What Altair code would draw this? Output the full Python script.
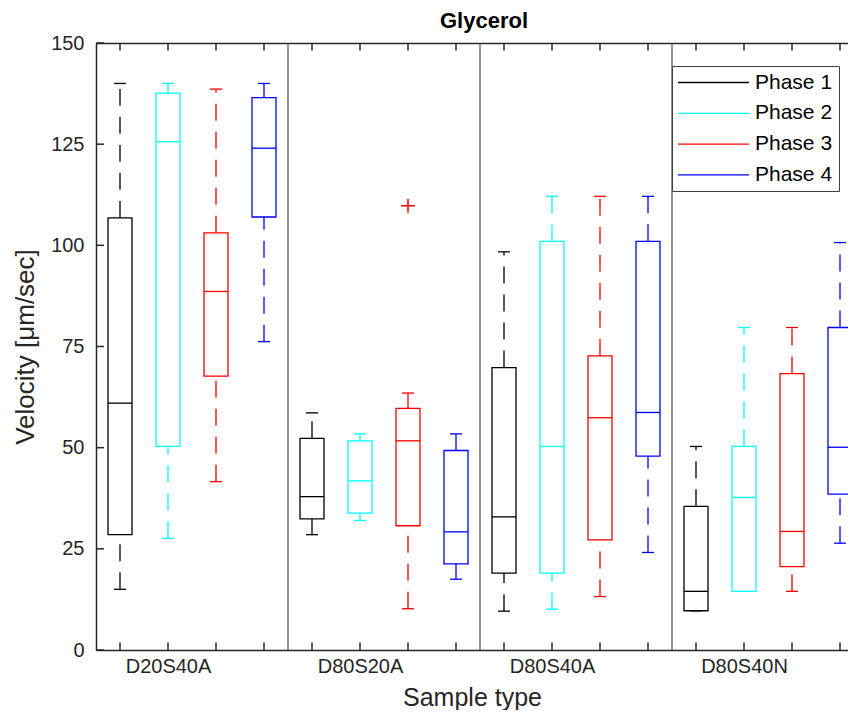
import altair as alt
import pandas as pd

groups = ["D20S40A", "D80S20A", "D80S40A", "D80S40N"]
phases = ["Phase 1", "Phase 2", "Phase 3", "Phase 4"]
colors = ["#000000", "#00ffff", "#ff0000", "#0000ff"]

# one value per box, group-major then phase order
lower  = [15.0, 27.6, 41.6, 76.2,   28.5, 32.0, 10.2, 17.5,   9.6, 10.1, 13.2, 24.1,   9.7, 14.5, 14.5, 26.4]
q1     = [28.5, 50.3, 67.7, 107.0,  32.4, 33.8, 30.7, 21.3,   19.0, 19.0, 27.2, 47.9,  9.7, 14.5, 20.6, 38.5]
median = [61.0, 125.6, 88.6, 124.0, 37.9, 41.8, 51.7, 29.2,   32.9, 50.3, 57.4, 58.7,  14.5, 37.7, 29.3, 50.1]
q3     = [106.8, 137.6, 103.1, 136.5, 52.3, 51.7, 59.7, 49.3, 69.8, 101.0, 72.7, 101.0, 35.5, 50.3, 68.3, 79.7]
upper  = [140.0, 140.0, 138.6, 140.0, 58.6, 53.4, 63.5, 53.4, 98.4, 112.1, 112.1, 112.1, 50.3, 79.7, 79.7, 100.7]

outlier_group = ["D80S20A"]
outlier_phase = ["Phase 3"]
outlier_value = [109.8]

y_ticks = [0, 25, 50, 75, 100, 125, 150]

FONT = "Liberation Sans"
AX = "#262626"
W, H = 752, 607
UNIT = 48.0  # pixels per box slot

rows = []
i = 0
for gi, g in enumerate(groups):
    for pi, p in enumerate(phases):
        pos = gi * 4 + pi + 1
        rows.append(dict(group=g, phase=p, pos=pos,
                         left=pos - 0.25, right=pos + 0.25,
                         capl=pos - 0.125, capr=pos + 0.125,
                         lower=lower[i], q1=q1[i], median=median[i],
                         q3=q3[i], upper=upper[i]))
        i += 1
df = pd.DataFrame(rows)

out_rows = []
for g, p, v in zip(outlier_group, outlier_phase, outlier_value):
    out_rows.append(dict(group=g, phase=p, value=v,
                         pos=groups.index(g) * 4 + phases.index(p) + 1))
dfo = pd.DataFrame(out_rows)

xticks = pd.DataFrame({"pos": list(range(1, 4 * len(groups) + 1))})
yticks = pd.DataFrame({"v": y_ticks})
seps = pd.DataFrame({"s": [gi * 4 + 0.5 for gi in range(1, len(groups))]})

xscale = alt.Scale(domain=[0.5, 0.5 + W / UNIT], nice=False, zero=False)
yscale = alt.Scale(domain=[0, 150], nice=False, zero=False)

label_positions = [gi * 4 + 2 for gi in range(len(groups))]
label_expr = " : ".join(
    [f"datum.value == {p} ? '{g}'" for p, g in zip(label_positions, groups)]
) + " : ''"

legend = alt.Legend(
    orient="none", legendX=576, legendY=23, title=None,
    symbolType="M-3.737,0H3.737", symbolSize=361, symbolStrokeWidth=1.3,
    symbolOffset=25, labelOffset=31, labelFont=FONT, labelFontSize=21,
    labelColor="#000000", padding=6, rowPadding=8.8,
    strokeColor="#404040", fillColor="white", labelLimit=300,
)
color = alt.Color("phase:N", scale=alt.Scale(domain=phases, range=colors), legend=legend)

x_bottom_axis = alt.Axis(
    orient="bottom",
    values=label_positions, labelExpr=label_expr, ticks=False, grid=False,
    domain=True, domainColor=AX, domainWidth=1.5, labelFont=FONT,
    labelFontSize=20, labelColor=AX, labelPadding=6, labelFlush=False,
    title="Sample type", titleFont=FONT, titleFontSize=25,
    titleFontWeight="normal", titleColor=AX, titlePadding=9,
)
y_axis = alt.Axis(
    orient="left",
    values=y_ticks, ticks=False, grid=False, domain=True, domainColor=AX,
    domainWidth=1.5, labelFont=FONT, labelFontSize=20, labelColor=AX,
    labelPadding=12, labelFlush=False, title="Velocity [μm/sec]",
    titleFont=FONT, titleFontSize=26, titleFontWeight="normal",
    titleColor=AX, titlePadding=12,
)
top_axis = alt.Axis(orient="top", labels=False, ticks=False, grid=False,
                    title=None, domain=True, domainColor=AX, domainWidth=1.5)

# axes-only layers
y_axis_layer = alt.Chart(yticks).mark_rule(color=AX, strokeWidth=1.5).encode(
    y=alt.Y("v:Q", scale=yscale, axis=y_axis),
    x=alt.value(0), x2=alt.value(8),
)
xt_bot = alt.Chart(xticks).mark_rule(color=AX, strokeWidth=1.5).encode(
    x=alt.X("pos:Q", scale=xscale, axis=x_bottom_axis),
    y=alt.value(H), y2=alt.value(H - 7.5),
)
xt_top = alt.Chart(xticks).mark_rule(color=AX, strokeWidth=1.5).encode(
    x=alt.X("pos:Q", scale=xscale, axis=top_axis),
    y=alt.value(0), y2=alt.value(7.5),
)

separators = alt.Chart(seps).mark_rule(color="#4d4d4d", strokeWidth=1.2).encode(
    x=alt.X("s:Q", scale=xscale, axis=None)
)

base = alt.Chart(df)
boxes = base.mark_rect(fill="transparent", strokeWidth=1.3).encode(
    x=alt.X("left:Q", scale=xscale, axis=None), x2="right:Q",
    y=alt.Y("q1:Q", scale=yscale, axis=None), y2="q3:Q",
    stroke=color,
)
medians = base.mark_rule(strokeWidth=1.3).encode(
    x=alt.X("left:Q", scale=xscale, axis=None), x2="right:Q",
    y=alt.Y("median:Q", scale=yscale, axis=None), color=color,
)
dash = [17, 11]
whisk_up = base.mark_rule(strokeWidth=1.3, strokeDash=dash).encode(
    x=alt.X("pos:Q", scale=xscale, axis=None),
    y=alt.Y("q3:Q", scale=yscale, axis=None), y2="upper:Q", color=color,
)
whisk_lo = base.mark_rule(strokeWidth=1.3, strokeDash=dash).encode(
    x=alt.X("pos:Q", scale=xscale, axis=None),
    y=alt.Y("lower:Q", scale=yscale, axis=None), y2="q1:Q", color=color,
)
cap_up = base.mark_rule(strokeWidth=1.3).encode(
    x=alt.X("capl:Q", scale=xscale, axis=None), x2="capr:Q",
    y=alt.Y("upper:Q", scale=yscale, axis=None), color=color,
)
cap_lo = base.mark_rule(strokeWidth=1.3).encode(
    x=alt.X("capl:Q", scale=xscale, axis=None), x2="capr:Q",
    y=alt.Y("lower:Q", scale=yscale, axis=None), color=color,
)
outliers = alt.Chart(dfo).mark_point(
    shape="M-1,0H1M0,-1V1", size=196, filled=False, strokeWidth=1.5, opacity=1
).encode(
    x=alt.X("pos:Q", scale=xscale, axis=None),
    y=alt.Y("value:Q", scale=yscale, axis=None),
    color=color,
)

chart = alt.layer(
    y_axis_layer, xt_bot, xt_top,
    separators, boxes, medians, whisk_up, whisk_lo, cap_up, cap_lo, outliers,
).resolve_axis(x="independent", y="independent").properties(
    width=W, height=H,
    title=alt.TitleParams("Glycerol", font=FONT, fontSize=22, fontWeight="bold",
                          color="#000000", anchor="middle", frame="group",
                          dx=12, offset=0),
    autosize=alt.AutoSizeParams(type="none"),
    padding={"left": 88, "top": 35, "right": 0, "bottom": 60},
    background="white",
).configure_view(stroke=None)

chart.save("out.html", embed_options={"renderer": "svg", "actions": False})
